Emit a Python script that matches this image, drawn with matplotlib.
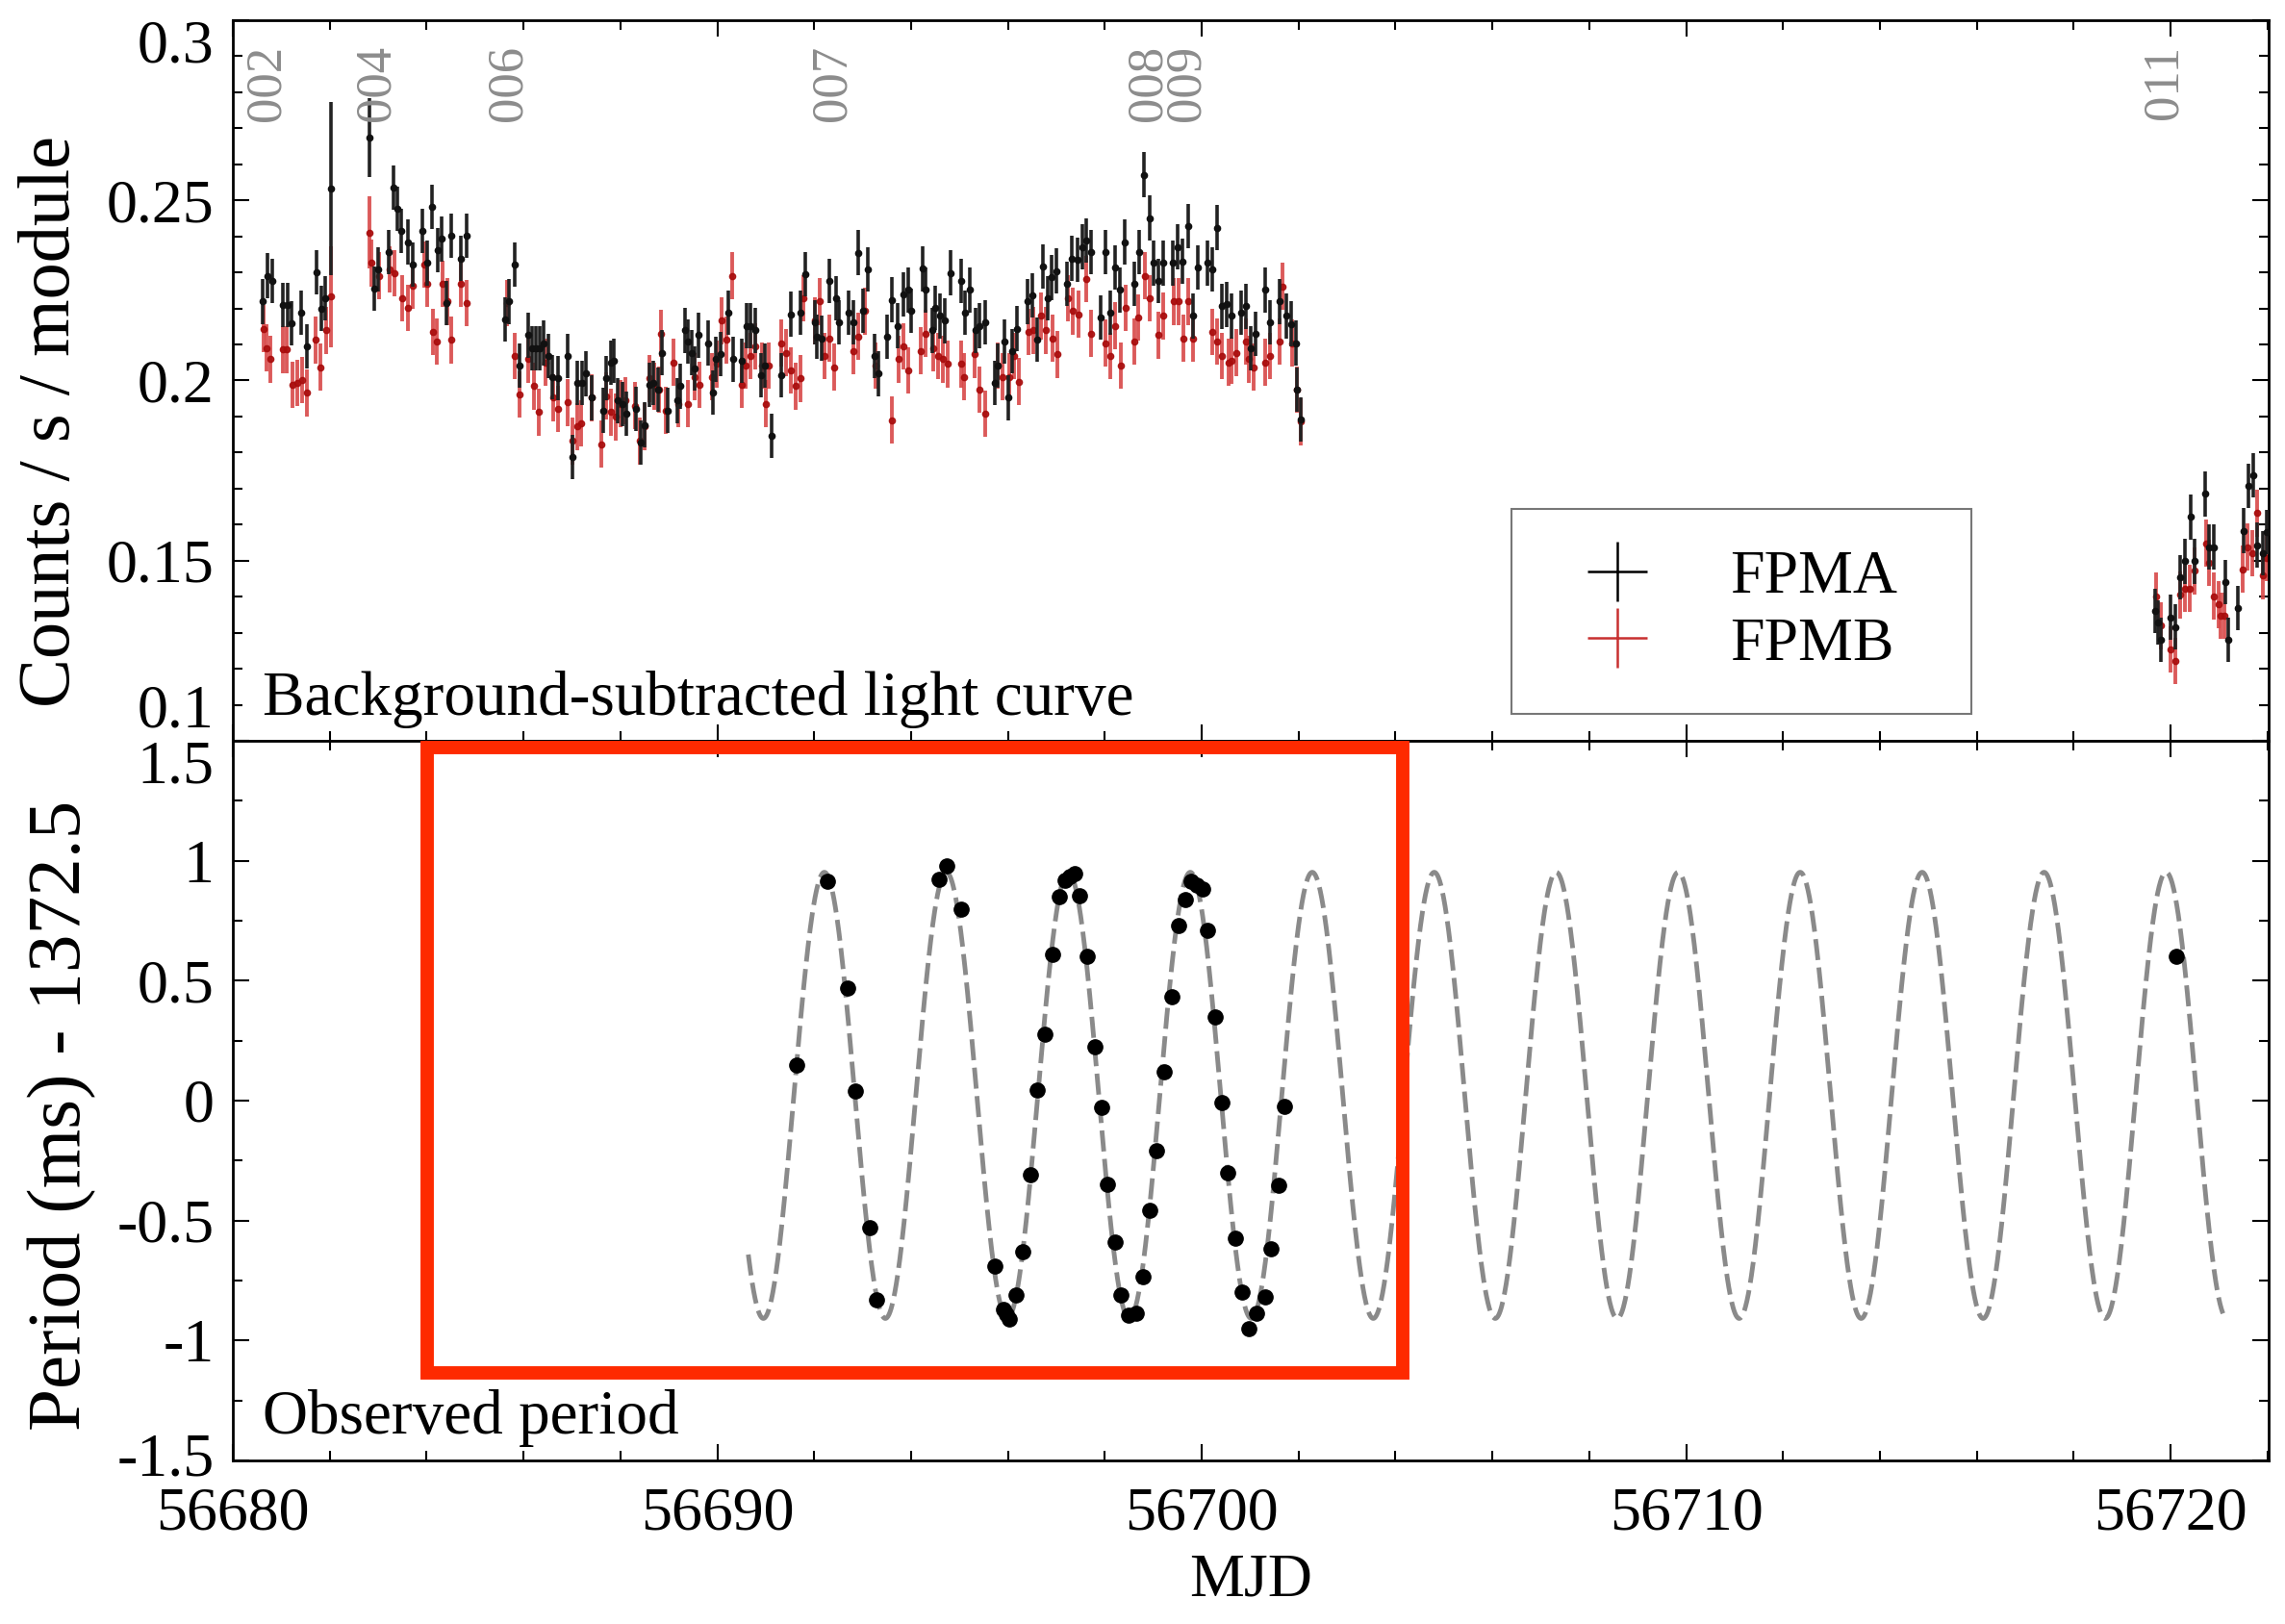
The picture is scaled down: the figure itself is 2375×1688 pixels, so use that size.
import numpy as np
import matplotlib
matplotlib.use("Agg")
import matplotlib.pyplot as plt
from matplotlib.ticker import MultipleLocator, FuncFormatter
from matplotlib.lines import Line2D
from matplotlib.patches import Rectangle
import matplotlib.transforms as mtransforms

plt.rcParams["font.family"] = ["Liberation Serif", "DejaVu Serif"]

mjd0 = 56680.0

# ---- light curve, FPMA (days since MJD 56680, counts/s/module) ----
fpma_t = [
    0.609, 0.715, 0.808, 1.026, 1.125, 1.211, 1.410, 1.522, 1.721, 1.820, 1.906, 2.032,
    2.813, 2.912, 2.992, 3.223, 3.309, 3.389, 3.475, 3.607, 3.707, 3.918, 4.004, 4.117,
    4.223, 4.302, 4.402, 4.514, 4.713, 4.832,
    5.613, 5.706, 5.825, 5.911, 6.090, 6.169, 6.255, 6.341, 6.407, 6.520,
    6.586, 6.718, 6.917, 7.016, 7.115, 7.215, 7.281, 7.400, 7.645, 7.711,
    7.797, 7.863, 7.943, 8.042, 8.128, 8.327, 8.419, 8.505, 8.592, 8.671,
    8.770, 8.856, 8.969, 9.167, 9.233, 9.333, 9.399, 9.479, 9.531, 9.611,
    9.809, 9.909, 9.975, 10.061, 10.227, 10.326,
    10.511, 10.604, 10.690, 10.789, 10.908, 10.975, 11.120, 11.319, 11.517, 11.716,
    11.815, 12.014, 12.060, 12.146, 12.312, 12.444, 12.510, 12.709, 12.808, 12.907,
    13.007, 13.106, 13.238, 13.318, 13.503, 13.603, 13.715, 13.834, 13.933, 14.000,
    14.231, 14.297, 14.430, 14.496, 14.595, 14.694, 14.813, 15.025, 15.105, 15.211,
    15.323, 15.409, 15.522, 15.720, 15.787, 15.919, 16.005, 16.085, 16.184, 16.402,
    16.495, 16.601, 16.713, 16.813, 16.892, 16.998, 17.210, 17.309, 17.442, 17.528,
    17.607, 17.707, 17.905, 18.005, 18.104, 18.203, 18.302, 18.402, 18.601, 18.700,
    18.800, 18.918, 18.998, 19.097, 19.196, 19.395, 19.494, 19.593, 19.726, 19.825,
    19.925, 20.123, 20.223, 20.322, 20.421, 20.521,
    20.612, 20.810, 20.910, 21.009, 21.108, 21.307, 21.406, 21.605, 21.737, 21.836,
    21.936, 21.969, 22.035,
    39.674, 39.740, 39.807, 40.005, 40.104, 40.204, 40.303, 40.416, 40.502, 40.713,
    40.800, 40.899, 41.130, 41.197, 41.395, 41.514, 41.607, 41.713, 41.792, 41.912,
    41.991,
]
fpma_rate = [
    0.2219, 0.2291, 0.2277, 0.2209, 0.2209, 0.2159, 0.2188, 0.2095, 0.2301, 0.2200, 0.2228, 0.2533,
    0.2675, 0.2255, 0.2308, 0.2357, 0.2535, 0.2477, 0.2415, 0.2384, 0.2322, 0.2415, 0.2326, 0.2482,
    0.2362, 0.2393, 0.2215, 0.2402, 0.2339, 0.2402,
    0.2169, 0.2219, 0.2322, 0.2041, 0.2126, 0.2090, 0.2090, 0.2090, 0.2104, 0.2068,
    0.2010, 0.2006, 0.2068, 0.1788, 0.1993, 0.1993, 0.2019, 0.1952, 0.1917, 0.2006,
    0.2050, 0.2055, 0.1944, 0.1935, 0.1908, 0.1921, 0.1828, 0.1877, 0.1988, 0.1993,
    0.1975, 0.2077, 0.1917, 0.1944, 0.1984, 0.2139, 0.2108, 0.2077, 0.2033, 0.2126,
    0.2104, 0.1966, 0.2059, 0.2073, 0.2188, 0.2059,
    0.2055, 0.2152, 0.2152, 0.2139, 0.2015, 0.2041, 0.1846, 0.2015, 0.2184, 0.2188,
    0.2295, 0.2161, 0.2122, 0.2117, 0.2277, 0.2228, 0.2161, 0.2188, 0.2161, 0.2355,
    0.2193, 0.2308, 0.2068, 0.2019, 0.2122, 0.2224, 0.2152, 0.2239, 0.2251, 0.2193,
    0.2310, 0.2251, 0.2139, 0.2202, 0.2179, 0.2166, 0.2299, 0.2277, 0.2188, 0.2251,
    0.2139, 0.2152, 0.2161, 0.1993, 0.2041, 0.2108, 0.1952, 0.2082, 0.2144, 0.2219,
    0.2237, 0.2113, 0.2317, 0.2228, 0.2286, 0.2304, 0.2268, 0.2339, 0.2335, 0.2371,
    0.2389, 0.2357, 0.2175, 0.2357, 0.2188, 0.2313, 0.2251, 0.2384, 0.2268, 0.2357,
    0.2571, 0.2451, 0.2326, 0.2277, 0.2326, 0.2326, 0.2371, 0.2331, 0.2429, 0.2179,
    0.2313, 0.2326, 0.2308, 0.2424, 0.2206, 0.2211,
    0.2179, 0.2188, 0.2206, 0.2090, 0.2130, 0.2251, 0.2161, 0.2219, 0.2179, 0.2157,
    0.2104, 0.1975, 0.1892,
    0.1360, 0.1329, 0.1280, 0.1343, 0.1316, 0.1454, 0.1498, 0.1621, 0.1498, 0.1685,
    0.1538, 0.1538, 0.1441, 0.1280, 0.1369, 0.1583, 0.1708, 0.1737, 0.1543, 0.1521,
    0.1579,
]
fpma_err_typ = 0.0062
fpma_big_t = [2.032, 2.813]
fpma_big_err = [0.024, 0.011]

# ---- light curve, FPMB ----
fpmb_t = [
    0.629, 0.695, 0.781, 1.026, 1.112, 1.225, 1.324, 1.423, 1.522, 1.708, 1.807, 1.919, 2.019,
    2.813, 2.866, 3.012, 3.243, 3.343, 3.495, 3.607, 3.707, 3.958, 4.018, 4.137, 4.216,
    4.335, 4.422, 4.514, 4.713, 4.819,
    5.659, 5.825, 5.924, 6.090, 6.222, 6.321, 6.454, 6.619, 6.718, 6.917,
    7.016, 7.115, 7.182, 7.413, 7.612, 7.711, 7.810, 7.910, 8.009, 8.108,
    8.307, 8.406, 8.505, 8.605, 8.704, 8.790, 8.836, 8.936, 9.101, 9.200,
    9.399, 9.531, 9.631, 9.895, 9.995, 10.094, 10.193, 10.312,
    10.511, 10.591, 10.690, 10.789, 10.922, 11.008, 11.068, 11.319, 11.419, 11.518,
    11.617, 11.716, 11.782, 12.014, 12.114, 12.213, 12.312, 12.411, 12.808, 12.907,
    13.040, 13.272, 13.603, 13.735, 13.834, 13.933, 14.198, 14.297, 14.463, 14.562,
    14.661, 14.747, 15.039, 15.092, 15.304, 15.409, 15.522, 15.787, 15.886, 16.018,
    16.118, 16.230, 16.415, 16.515, 16.680, 16.779, 16.912, 17.024, 17.243, 17.343,
    17.462, 17.607, 17.707, 18.004, 18.104, 18.203, 18.335, 18.435, 18.601, 18.680,
    18.832, 18.931, 19.097, 19.196, 19.427, 19.527, 19.626, 19.712, 19.825, 20.223,
    20.322, 20.421, 20.553,
    20.612, 20.711, 20.910, 20.976, 21.075, 21.307, 21.406, 21.605, 21.671, 21.869,
    21.969, 22.035,
    39.707, 39.807, 40.005, 40.091, 40.204, 40.303, 40.402, 40.502, 40.733, 40.800,
    40.899, 40.985, 41.031, 41.117, 41.494, 41.594, 41.693, 41.792, 41.912, 41.991,
]
fpmb_rate = [
    0.2144, 0.2090, 0.2059, 0.2086, 0.2086, 0.1988, 0.1993, 0.2001, 0.1966, 0.2113, 0.2037, 0.2139, 0.2233,
    0.2411, 0.2326, 0.2291, 0.2308, 0.2298, 0.2228, 0.2202, 0.2264, 0.2322, 0.2268, 0.2135, 0.2108,
    0.2268, 0.2219, 0.2113, 0.2268, 0.2215,
    0.2215, 0.2068, 0.1961, 0.2059, 0.1984, 0.1912, 0.2050, 0.1952, 0.1921, 0.1939,
    0.1832, 0.1872, 0.1881, 0.1952, 0.1823, 0.1957, 0.1912, 0.1899, 0.1935, 0.1944,
    0.1930, 0.1832, 0.1872, 0.2006, 0.1984, 0.1975, 0.2130, 0.1917, 0.2050, 0.1935,
    0.1935, 0.2010, 0.1988, 0.2010, 0.2046, 0.2166, 0.2113, 0.2291,
    0.1988, 0.2041, 0.2068, 0.2095, 0.2041, 0.1935, 0.2041, 0.2104, 0.2077, 0.2028,
    0.1984, 0.2006, 0.2228, 0.2166, 0.2219, 0.2068, 0.2117, 0.2037, 0.2082, 0.2122,
    0.2193, 0.2041, 0.1890, 0.2059, 0.2095, 0.2028, 0.2082, 0.2130, 0.2090, 0.2068,
    0.2059, 0.2046, 0.2046, 0.2010, 0.2073, 0.1975, 0.1908, 0.2041, 0.2010, 0.2010,
    0.2068, 0.1997, 0.2135, 0.2139, 0.2179, 0.2139, 0.2117, 0.2073, 0.2228, 0.2193,
    0.2184, 0.2282, 0.2130, 0.2104, 0.2068, 0.2152, 0.2041, 0.2202, 0.2108, 0.2175,
    0.2291, 0.2228, 0.2126, 0.2179, 0.2219, 0.2219, 0.2117, 0.2219, 0.2117, 0.2135,
    0.2108, 0.2068, 0.2050,
    0.2055, 0.2077, 0.2108, 0.2059, 0.2037, 0.2050, 0.2068, 0.2108, 0.2261, 0.2104,
    0.1975, 0.1886,
    0.1401, 0.1320, 0.1254, 0.1222, 0.1405, 0.1423, 0.1423, 0.1472, 0.1548, 0.1494,
    0.1401, 0.1378, 0.1347, 0.1347, 0.1476, 0.1538, 0.1521, 0.1632, 0.1458, 0.1507,
]
fpmb_err_typ = 0.0065
fpmb_big_t = [2.019, 2.813]
fpmb_big_err = [0.014, 0.010]

# observation IDs (008 and 009 sit side by side)
obs_ids = ["002", "004", "006", "007", "008\n009", "011"]
obs_t = [0.71, 2.96, 5.68, 12.39, 19.29, 39.87]

# ---- observed pulse period (ms) - 1372.5 ----
per_t = [
    11.63, 12.27, 12.69, 12.84, 13.15, 13.28, 14.57, 14.74, 15.04, 15.73,
    15.90, 15.96, 16.03, 16.17, 16.31, 16.47, 16.60, 16.76, 16.92, 17.05,
    17.18, 17.28, 17.37, 17.47, 17.64, 17.79, 17.94, 18.05, 18.21, 18.34,
    18.49, 18.65, 18.79, 18.92, 19.07, 19.23, 19.38, 19.53, 19.66, 19.78,
    19.90, 20.01, 20.12, 20.27, 20.42, 20.54, 20.70, 20.83, 20.98, 21.13,
    21.30, 21.42, 21.58, 21.71, 40.12,
]
per_val = [
    0.148, 0.914, 0.47, 0.04, -0.53, -0.83, 0.921, 0.98, 0.80, -0.69,
    -0.87, -0.89, -0.91, -0.81, -0.63, -0.31, 0.044, 0.278, 0.61, 0.85,
    0.92, 0.936, 0.948, 0.855, 0.60, 0.224, -0.03, -0.35, -0.59, -0.81,
    -0.896, -0.887, -0.733, -0.457, -0.21, 0.121, 0.434, 0.73, 0.84, 0.914,
    0.90, 0.882, 0.708, 0.348, -0.008, -0.30, -0.574, -0.798, -0.95, -0.887,
    -0.82, -0.617, -0.354, -0.026, 0.60,
]

# orbital model (fit parameters)
orb_period = 2.5178
orb_peak = 12.21
orb_amp = 0.93
orb_offset = 0.022
model_start, model_end = 10.64, 41.08


def errs(ts, typ, big_t, big_err):
    e = np.full(len(ts), typ)
    for bt, be in zip(big_t, big_err):
        e[np.argmin(np.abs(np.asarray(ts) - bt))] = be
    return e


fs_tick = 46
fig = plt.figure(figsize=(23.75, 16.88), dpi=100)
ax1 = fig.add_axes([0.10189, 0.54384, 0.8909, 0.44372])
ax2 = fig.add_axes([0.10189, 0.10071, 0.8909, 0.44313], sharex=ax1)

# light curve
ax1.errorbar(mjd0 + np.array(fpma_t), fpma_rate,
             yerr=errs(fpma_t, fpma_err_typ, fpma_big_t, fpma_big_err),
             fmt="o", ms=4.5, color="#111111", ecolor="#222222", elinewidth=2.6,
             capsize=0, zorder=3)
ax1.errorbar(mjd0 + np.array(fpmb_t), fpmb_rate,
             yerr=errs(fpmb_t, fpmb_err_typ, fpmb_big_t, fpmb_big_err),
             fmt="o", ms=4.5, color="#a80c0c", ecolor="#d84848", elinewidth=2.8,
             capsize=0, alpha=0.9, zorder=2)

tr1 = mtransforms.blended_transform_factory(ax1.transData, ax1.transAxes)
for oid, t in zip(obs_ids, obs_t):
    ax1.text(mjd0 + t, 0.966, oid, transform=tr1, rotation=90, ha="center",
             va="top", fontsize=38, color="#8c8c8c", linespacing=0.8,
             multialignment="center")

ax1.text(0.0147, 0.036, "Background-subtracted light curve", transform=ax1.transAxes,
         fontsize=47, ha="left", va="baseline")

handles = [
    Line2D([], [], ls="none", marker="+", ms=44, mew=1.8, color="black"),
    Line2D([], [], ls="none", marker="+", ms=44, mew=1.8, color="#c83030"),
]
leg = ax1.legend(handles, ["FPMA", "FPMB"], loc="lower left",
                 bbox_to_anchor=(0.628, 0.0374, 0.2259, 0.287), mode="expand",
                 borderaxespad=0, fontsize=46, frameon=True, fancybox=False,
                 edgecolor="#777777", framealpha=1, borderpad=0.66,
                 handlelength=2.13, handletextpad=0.77, labelspacing=0.17)
leg.get_frame().set_linewidth(1.5)

# period panel
tm = np.linspace(mjd0 + model_start, mjd0 + model_end, 3000)
ax2.plot(tm, orb_offset + orb_amp * np.cos(2 * np.pi * (tm - mjd0 - orb_peak) / orb_period),
         color="#8a8a8a", lw=3.5, dashes=(4.5, 1.6), zorder=2)
ax2.plot(mjd0 + np.array(per_t), per_val, "o", color="black", ms=11, zorder=3)
ax2.text(0.0147, 0.037, "Observed period", transform=ax2.transAxes,
         fontsize=47, ha="left", va="baseline")

# axes styling
ax1.set_xlim(56680, 56722.02)
ax1.set_ylim(0.1, 0.3)
ax2.set_ylim(-1.5, 1.5)

ax1.set_yticks([0.1, 0.15, 0.2, 0.25, 0.3], labels=["0.1", "0.15", "0.2", "0.25", "0.3"])
ax1.yaxis.set_minor_locator(MultipleLocator(0.01))
ax2.set_yticks([-1.5, -1, -0.5, 0, 0.5, 1, 1.5],
               labels=["-1.5", "-1", "-0.5", "0", "0.5", "1", "1.5"])
ax2.yaxis.set_minor_locator(MultipleLocator(0.25))
ax2.xaxis.set_major_locator(MultipleLocator(10))
ax2.xaxis.set_minor_locator(MultipleLocator(2))
ax2.xaxis.set_major_formatter(FuncFormatter(lambda v, p: "%d" % round(v)))

for ax in (ax1, ax2):
    ax.tick_params(which="both", direction="in", top=True, right=True,
                   labelsize=fs_tick, width=1.5)
    ax.tick_params(which="major", length=12)
    ax.tick_params(which="minor", length=7)
    ax.tick_params(axis="y", pad=14)
    ax.tick_params(axis="x", pad=20)
    for s in ax.spines.values():
        s.set_linewidth(2)
ax1.tick_params(axis="x", labelbottom=False)

ax1.set_ylabel("Counts / s / module", fontsize=55)
ax1.yaxis.set_label_coords(-0.073, 0.443)
ax2.set_ylabel("Period (ms) - 1372.5", fontsize=57)
ax2.yaxis.set_label_coords(-0.067, 0.48)
ax2.set_xlabel("MJD", fontsize=46, labelpad=8)

# extreme tick labels pushed inside the panel, as in the original
yt1 = ax1.yaxis.get_major_ticks()
yt1[0].label1.set_verticalalignment("bottom")
yt1[-1].label1.set_verticalalignment("top")
yt2 = ax2.yaxis.get_major_ticks()
yt2[0].label1.set_verticalalignment("center")
yt2[-1].label1.set_verticalalignment("top")

# red highlight box drawn over the figure
fig.add_artist(Rectangle((0.1869, 0.1546), 0.4270, 0.3851, transform=fig.transFigure,
                         fill=False, ec="#fe2a00", lw=10, zorder=10))

fig.savefig("out.png", dpi=100)
